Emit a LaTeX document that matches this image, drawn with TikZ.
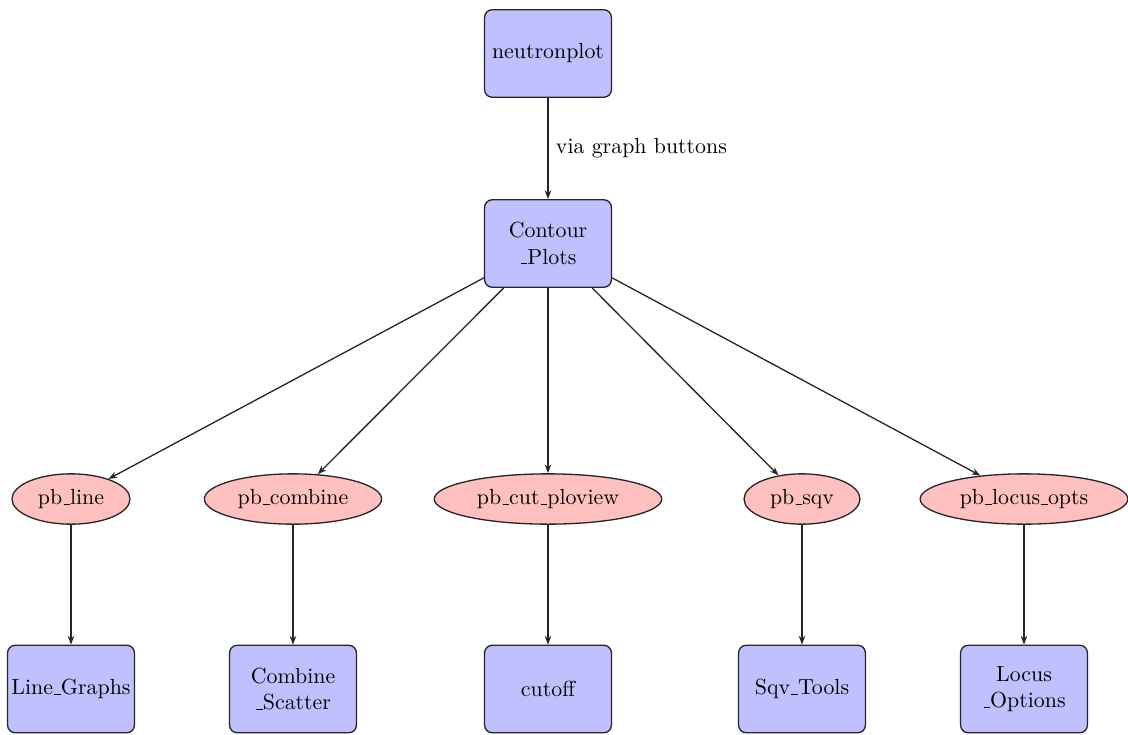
\documentclass[tikz,border=0pt]{standalone}
\usetikzlibrary{arrows.meta,shapes.geometric}
\definecolor{boxfill}{RGB}{192,192,255}
\definecolor{ellfill}{RGB}{255,192,192}
\newcommand\usc{\leavevmode\kern.06em\vbox{\hrule width.3em}}
\begin{document}
\begin{tikzpicture}[x=0.4572pt,y=-0.4572pt,
  boxnode/.style={draw=black!85,line width=0.6pt,fill=boxfill,rounded corners=3.5pt,
    text width=58pt,inner xsep=0pt,minimum height=40pt,align=center},
  ellnode/.style={draw=black!85,line width=0.6pt,fill=ellfill,ellipse,inner sep=0pt,
    minimum height=23pt},
  conn/.style={line width=0.6pt,draw=black!85,-{Stealth[length=4pt,width=3pt]}}]
\useasboundingbox (0,0) rectangle (1128,734);
\node[boxnode] (np) at (548,53.5) {neutronplot};
\node[boxnode] (cp) at (548,243.5) {Contour\\\usc Plots};
\node[ellnode,minimum width=54pt] (e1) at (71,499) {pb\usc line};
\node[ellnode,minimum width=81pt] (e2) at (293,499) {pb\usc combine};
\node[ellnode,minimum width=104pt] (e3) at (548,499) {pb\usc cut\usc ploview};
\node[ellnode,minimum width=53pt] (e4) at (802,499) {pb\usc sqv};
\node[ellnode,minimum width=95pt] (e5) at (1024,499) {pb\usc locus\usc opts};
\node[boxnode] (b1) at (71,689) {Line\usc Graphs};
\node[boxnode] (b2) at (293,689) {Combine\\\usc Scatter};
\node[boxnode] (b3) at (548,689) {cutoff};
\node[boxnode] (b4) at (802,689) {Sqv\usc Tools};
\node[boxnode] (b5) at (1024,689) {Locus\\\usc Options};
\draw[conn] (np) -- node[right] {via graph buttons} (cp);
\foreach \e in {e1,e2,e3,e4,e5} \draw[conn] (cp) -- (\e);
\draw[conn] (e1) -- (b1);
\draw[conn] (e2) -- (b2);
\draw[conn] (e3) -- (b3);
\draw[conn] (e4) -- (b4);
\draw[conn] (e5) -- (b5);
\end{tikzpicture}
\end{document}
